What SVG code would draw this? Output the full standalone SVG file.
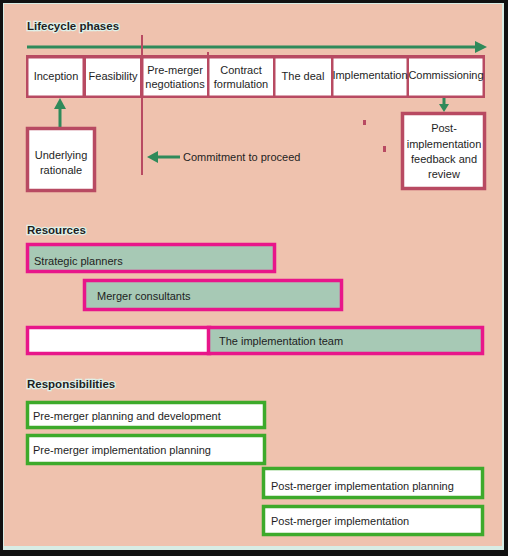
<svg xmlns="http://www.w3.org/2000/svg" width="508" height="556" viewBox="0 0 508 556">
<style>
  text { font-family: "Liberation Sans", Arial, sans-serif; fill: #1e1e1e; }
  .title { font-size: 11.5px; font-weight: bold; stroke: #dff0e8; stroke-width: 2.5px; paint-order: stroke; }
  .ph { font-size: 11px; text-anchor: middle; }
  .lbl { font-size: 11px; }
  .phase { fill: #ffffff; stroke: #b84a62; stroke-width: 3.5; }
  .res { fill: #a7c9b5; stroke: #e8168a; stroke-width: 3.5; }
  .resp { fill: #ffffff; stroke: #3daa2b; stroke-width: 3.5; }
  .arr { stroke: #2f8a5a; stroke-width: 3; fill: none; }
  .ahead { fill: #2f8a5a; }
</style>
<rect x="0" y="0" width="508" height="556" fill="#111111"/>
<rect x="3" y="3" width="501" height="547" fill="#d8ece4"/>
<rect x="4" y="4" width="498" height="542" fill="#efc2ae"/>

<text class="title" x="27" y="30">Lifecycle phases</text>

<g id="connectors">
  <line class="arr" x1="27" y1="47" x2="476" y2="47"/>
  <polygon class="ahead" points="487,47 475,41 475,53"/>
  <line x1="142" y1="35" x2="142" y2="175" stroke="#b84a62" stroke-width="2"/>
  <line x1="208" y1="52" x2="208" y2="56" stroke="#b84a62" stroke-width="2"/>
  <line class="arr" x1="60" y1="127" x2="60" y2="108"/>
  <polygon class="ahead" points="60,98 54,109 66,109"/>
  <line class="arr" x1="156" y1="157" x2="180" y2="157"/>
  <polygon class="ahead" points="147,157 158,151 158,163"/>
  <line class="arr" x1="444" y1="98" x2="444" y2="105" stroke-width="2"/>
  <polygon class="ahead" points="444,112 439,104 449,104"/>
  <rect x="363" y="120" width="3" height="5" fill="#b84a62"/>
  <rect x="383" y="146" width="3" height="6" fill="#b84a62"/>
</g>

<g id="phases">
  <rect x="26" y="55" width="459" height="43" fill="#b84a62"/>
  <g id="inception"><rect x="28.5" y="58.5" width="54" height="37" fill="#fff"/><text class="ph" x="56" y="80">Inception</text></g>
  <g id="feasibility"><rect x="86" y="58.5" width="54" height="37" fill="#fff"/><text class="ph" x="113" y="80">Feasibility</text></g>
  <g id="premerger"><rect x="143.5" y="58.5" width="63.5" height="37" fill="#fff"/><text class="ph" x="175" y="74">Pre-merger</text><text class="ph" x="175" y="88">negotiations</text></g>
  <g id="contract"><rect x="209.5" y="58.5" width="63.5" height="37" fill="#fff"/><text class="ph" x="241" y="74">Contract</text><text class="ph" x="241" y="88">formulation</text></g>
  <g id="deal"><rect x="275.5" y="58.5" width="55.5" height="37" fill="#fff"/><text class="ph" x="303" y="80">The deal</text></g>
  <g id="implementation"><rect x="333.5" y="58.5" width="73" height="37" fill="#fff"/><text class="ph" x="370" y="79" font-size="9.5">Implementation</text></g>
  <g id="commissioning"><rect x="409" y="58.5" width="73.5" height="37" fill="#fff"/><text class="ph" x="446" y="79" font-size="9.5">Commissioning</text></g>
</g>

<g id="rationale">
  <rect class="phase" x="27.5" y="128.5" width="67" height="62"/>
  <text class="ph" x="61" y="159">Underlying</text>
  <text class="ph" x="61" y="174">rationale</text>
</g>

<g id="commitment">
  <text class="lbl" x="183" y="161" font-size="11.3">Commitment to proceed</text>
</g>

<g id="postimpl">
  <rect class="phase" x="402.5" y="113.5" width="82" height="75"/>
  <text class="ph" x="444" y="132">Post-</text>
  <text class="ph" x="444" y="148">implementation</text>
  <text class="ph" x="444" y="163">feedback and</text>
  <text class="ph" x="444" y="178">review</text>
</g>

<text class="title" x="27" y="234">Resources</text>

<g id="strategic">
  <rect class="res" x="27.5" y="244.5" width="247" height="27"/>
  <text class="lbl" x="34" y="265">Strategic planners</text>
</g>
<g id="consultants">
  <rect class="res" x="84.5" y="280.5" width="257" height="29"/>
  <text class="lbl" x="97" y="300">Merger consultants</text>
</g>
<g id="team">
  <rect x="27.5" y="327.5" width="182" height="26" fill="#ffffff" stroke="#e8168a" stroke-width="3.5"/>
  <rect class="res" x="208.5" y="327.5" width="274" height="26"/>
  <text class="lbl" x="219" y="345">The implementation team</text>
</g>

<text class="title" x="27" y="388">Responsibilities</text>

<g id="r1">
  <rect class="resp" x="27.5" y="402.5" width="237" height="25"/>
  <text class="lbl" x="33" y="420">Pre-merger planning and development</text>
</g>
<g id="r2">
  <rect class="resp" x="27.5" y="435.5" width="237" height="28"/>
  <text class="lbl" x="33" y="454">Pre-merger implementation planning</text>
</g>
<g id="r3">
  <rect class="resp" x="263.5" y="468.5" width="219" height="29"/>
  <text class="lbl" x="271" y="490">Post-merger implementation planning</text>
</g>
<g id="r4">
  <rect class="resp" x="263.5" y="506.5" width="219" height="28"/>
  <text class="lbl" x="271" y="525">Post-merger implementation</text>
</g>
</svg>
